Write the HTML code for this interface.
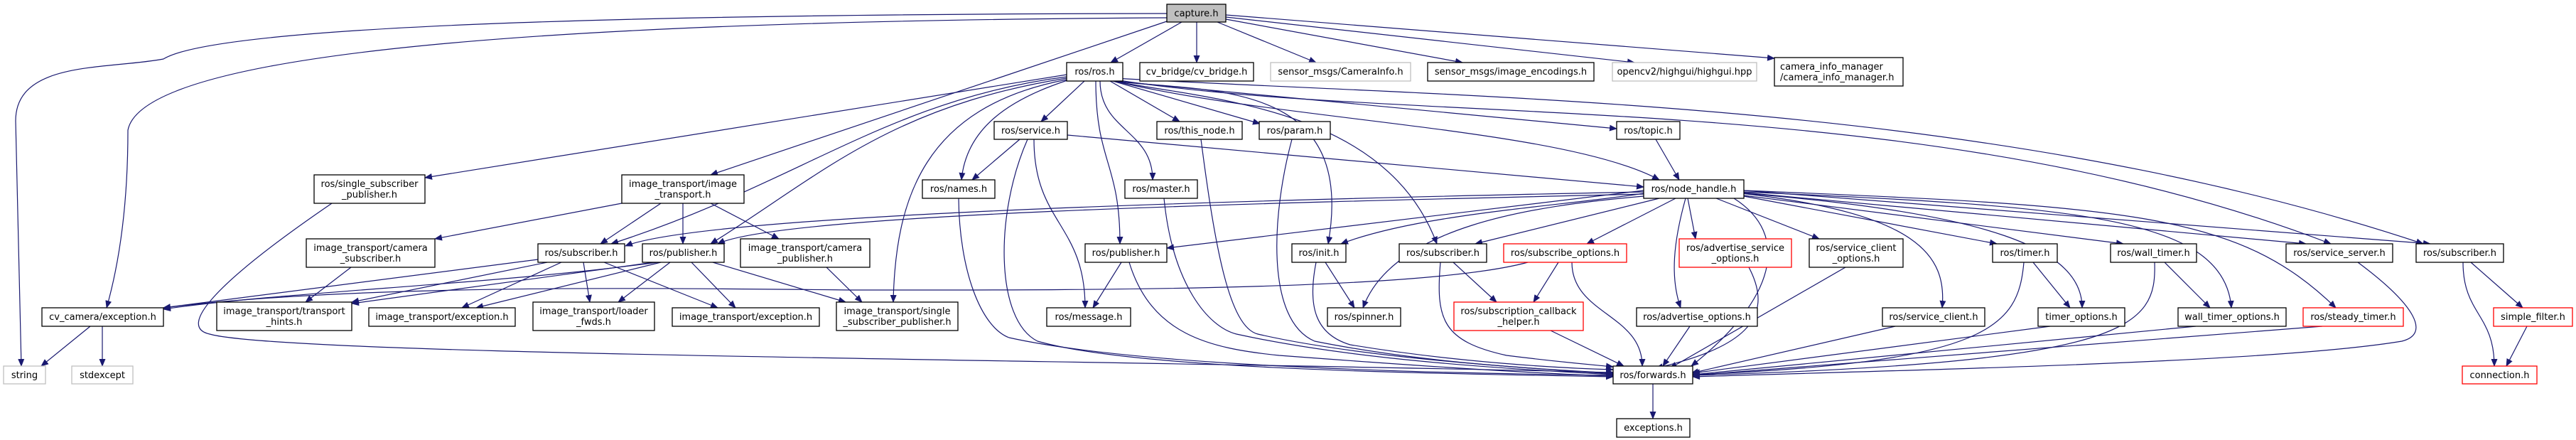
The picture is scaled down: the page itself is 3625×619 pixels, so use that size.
<!DOCTYPE html>
<html><head><meta charset="utf-8"><style>
html,body{margin:0;padding:0;background:#fff;}
svg{display:block;}
text{font-family:"DejaVu Sans","Liberation Sans",sans-serif;font-size:13px;fill:#000;}
</style></head><body>
<svg id="g" width="3625" height="619" viewBox="0 0 3625 619" xmlns="http://www.w3.org/2000/svg">
<defs><marker id="a" markerWidth="11" markerHeight="9" refX="10" refY="4.5" orient="auto" markerUnits="userSpaceOnUse"><path d="M0,0 L11,4.5 L0,9 Z" fill="#191970"/></marker></defs>
<g id="edges" fill="none" stroke="#191970" stroke-width="1.2"></g>
<g id="nodes" stroke-width="1.3">
<rect x="1642" y="6" width="83" height="25" fill="#bfbfbf" stroke="#000"/><text x="1683.5" y="23" text-anchor="middle">capture.h</text>
<rect x="1501" y="88" width="79" height="26" fill="#fff" stroke="#000"/><text x="1540.5" y="105" text-anchor="middle">ros/ros.h</text>
<rect x="1604" y="88" width="160" height="26" fill="#fff" stroke="#000"/><text x="1684" y="105" text-anchor="middle">cv_bridge/cv_bridge.h</text>
<rect x="1788" y="88" width="197" height="26" fill="#fff" stroke="#bfbfbf"/><text x="1886.5" y="105" text-anchor="middle">sensor_msgs/CameraInfo.h</text>
<rect x="2009" y="88" width="234" height="26" fill="#fff" stroke="#000"/><text x="2126" y="105" text-anchor="middle">sensor_msgs/image_encodings.h</text>
<rect x="2269" y="88" width="203" height="26" fill="#fff" stroke="#bfbfbf"/><text x="2370.5" y="105" text-anchor="middle">opencv2/highgui/highgui.hpp</text>
<rect x="2497" y="81" width="181" height="40" fill="#fff" stroke="#000"/><text x="2505" y="98">camera_info_manager</text><text x="2505" y="113">/camera_info_manager.h</text>
<rect x="442" y="246" width="156" height="40" fill="#fff" stroke="#000"/><text x="520" y="263" text-anchor="middle">ros/single_subscriber</text><text x="520" y="278" text-anchor="middle">_publisher.h</text>
<rect x="875" y="246" width="172" height="40" fill="#fff" stroke="#000"/><text x="961" y="263" text-anchor="middle">image_transport/image</text><text x="961" y="278" text-anchor="middle">_transport.h</text>
<rect x="1399" y="171" width="103" height="25" fill="#fff" stroke="#000"/><text x="1450.5" y="188" text-anchor="middle">ros/service.h</text>
<rect x="1628" y="171" width="120" height="25" fill="#fff" stroke="#000"/><text x="1688" y="188" text-anchor="middle">ros/this_node.h</text>
<rect x="1772" y="171" width="100" height="25" fill="#fff" stroke="#000"/><text x="1822" y="188" text-anchor="middle">ros/param.h</text>
<rect x="2275" y="171" width="89" height="25" fill="#fff" stroke="#000"/><text x="2319.5" y="188" text-anchor="middle">ros/topic.h</text>
<rect x="1298" y="253" width="102" height="26" fill="#fff" stroke="#000"/><text x="1349" y="270" text-anchor="middle">ros/names.h</text>
<rect x="1583" y="253" width="102" height="26" fill="#fff" stroke="#000"/><text x="1634" y="270" text-anchor="middle">ros/master.h</text>
<rect x="2313" y="253" width="141" height="26" fill="#fff" stroke="#000"/><text x="2383.5" y="270" text-anchor="middle">ros/node_handle.h</text>
<rect x="431" y="336" width="181" height="40" fill="#fff" stroke="#000"/><text x="521.5" y="353" text-anchor="middle">image_transport/camera</text><text x="521.5" y="368" text-anchor="middle">_subscriber.h</text>
<rect x="757" y="343" width="122" height="26" fill="#fff" stroke="#000"/><text x="818" y="360" text-anchor="middle">ros/subscriber.h</text>
<rect x="904" y="343" width="115" height="26" fill="#fff" stroke="#000"/><text x="961.5" y="360" text-anchor="middle">ros/publisher.h</text>
<rect x="1042" y="336" width="182" height="40" fill="#fff" stroke="#000"/><text x="1133" y="353" text-anchor="middle">image_transport/camera</text><text x="1133" y="368" text-anchor="middle">_publisher.h</text>
<rect x="1527" y="343" width="115" height="26" fill="#fff" stroke="#000"/><text x="1584.5" y="360" text-anchor="middle">ros/publisher.h</text>
<rect x="1818" y="343" width="76" height="26" fill="#fff" stroke="#000"/><text x="1856" y="360" text-anchor="middle">ros/init.h</text>
<rect x="1969" y="343" width="123" height="26" fill="#fff" stroke="#000"/><text x="2030.5" y="360" text-anchor="middle">ros/subscriber.h</text>
<rect x="2116" y="343" width="173" height="26" fill="#fff" stroke="#ff0000"/><text x="2202.5" y="360" text-anchor="middle">ros/subscribe_options.h</text>
<rect x="2363" y="336" width="158" height="40" fill="#fff" stroke="#ff0000"/><text x="2442" y="353" text-anchor="middle">ros/advertise_service</text><text x="2442" y="368" text-anchor="middle">_options.h</text>
<rect x="2546" y="336" width="132" height="40" fill="#fff" stroke="#000"/><text x="2612" y="353" text-anchor="middle">ros/service_client</text><text x="2612" y="368" text-anchor="middle">_options.h</text>
<rect x="2804" y="343" width="91" height="26" fill="#fff" stroke="#000"/><text x="2849.5" y="360" text-anchor="middle">ros/timer.h</text>
<rect x="2970" y="343" width="121" height="26" fill="#fff" stroke="#000"/><text x="3030.5" y="360" text-anchor="middle">ros/wall_timer.h</text>
<rect x="3217" y="343" width="150" height="26" fill="#fff" stroke="#000"/><text x="3292" y="360" text-anchor="middle">ros/service_server.h</text>
<rect x="3400" y="343" width="123" height="26" fill="#fff" stroke="#000"/><text x="3461.5" y="360" text-anchor="middle">ros/subscriber.h</text>
<rect x="59" y="433" width="171" height="26" fill="#fff" stroke="#000"/><text x="144.5" y="450" text-anchor="middle">cv_camera/exception.h</text>
<rect x="305" y="425" width="190" height="40" fill="#fff" stroke="#000"/><text x="400" y="442" text-anchor="middle">image_transport/transport</text><text x="400" y="457" text-anchor="middle">_hints.h</text>
<rect x="519" y="433" width="206" height="26" fill="#fff" stroke="#000"/><text x="622" y="450" text-anchor="middle">image_transport/exception.h</text>
<rect x="750" y="425" width="171" height="40" fill="#fff" stroke="#000"/><text x="835.5" y="442" text-anchor="middle">image_transport/loader</text><text x="835.5" y="457" text-anchor="middle">_fwds.h</text>
<rect x="946" y="433" width="207" height="26" fill="#fff" stroke="#000"/><text x="1049.5" y="450" text-anchor="middle">image_transport/exception.h</text>
<rect x="1177" y="425" width="171" height="40" fill="#fff" stroke="#000"/><text x="1262.5" y="442" text-anchor="middle">image_transport/single</text><text x="1262.5" y="457" text-anchor="middle">_subscriber_publisher.h</text>
<rect x="1473" y="433" width="118" height="26" fill="#fff" stroke="#000"/><text x="1532" y="450" text-anchor="middle">ros/message.h</text>
<rect x="1868" y="433" width="103" height="26" fill="#fff" stroke="#000"/><text x="1919.5" y="450" text-anchor="middle">ros/spinner.h</text>
<rect x="2046" y="425" width="182" height="40" fill="#fff" stroke="#ff0000"/><text x="2137" y="442" text-anchor="middle">ros/subscription_callback</text><text x="2137" y="457" text-anchor="middle">_helper.h</text>
<rect x="2303" y="433" width="170" height="26" fill="#fff" stroke="#000"/><text x="2388" y="450" text-anchor="middle">ros/advertise_options.h</text>
<rect x="2649" y="433" width="144" height="26" fill="#fff" stroke="#000"/><text x="2721" y="450" text-anchor="middle">ros/service_client.h</text>
<rect x="2868" y="433" width="122" height="26" fill="#fff" stroke="#000"/><text x="2929" y="450" text-anchor="middle">timer_options.h</text>
<rect x="3065" y="433" width="152" height="26" fill="#fff" stroke="#000"/><text x="3141" y="450" text-anchor="middle">wall_timer_options.h</text>
<rect x="3241" y="433" width="141" height="26" fill="#fff" stroke="#ff0000"/><text x="3311.5" y="450" text-anchor="middle">ros/steady_timer.h</text>
<rect x="3509" y="433" width="111" height="26" fill="#fff" stroke="#ff0000"/><text x="3564.5" y="450" text-anchor="middle">simple_filter.h</text>
<rect x="5" y="515" width="59" height="25" fill="#fff" stroke="#bfbfbf"/><text x="34.5" y="532" text-anchor="middle">string</text>
<rect x="101" y="515" width="86" height="25" fill="#fff" stroke="#bfbfbf"/><text x="144" y="532" text-anchor="middle">stdexcept</text>
<rect x="2270" y="515" width="112" height="25" fill="#fff" stroke="#000"/><text x="2326" y="532" text-anchor="middle">ros/forwards.h</text>
<rect x="3465" y="515" width="105" height="25" fill="#fff" stroke="#ff0000"/><text x="3517.5" y="532" text-anchor="middle">connection.h</text>
<rect x="2275" y="589" width="103" height="26" fill="#fff" stroke="#000"/><text x="2326.5" y="606" text-anchor="middle">exceptions.h</text>
</g>
</svg>
<script>
var E=[
[1663,31,1563,88],[1684,31,1684,88],[1713,31,1852,88],[1725,27,2058,88],[1725,24,2300,88],[1725,21,2497,82],
[1501,105,598,250],
[0,0,0,0,"M1501,110 C1250,150 1150,250 1000,343"],
[0,0,0,0,"M1501,108 C1250,140 1120,260 860,343"],
[0,0,0,0,"M1501,112 C1300,150 1260,280 1257,425"],
[0,0,0,0,"M1502,113 C1420,140 1360,180 1353,253"],
[1526,114,1465,171],[1542,114,1576,343],[1548,114,1622,253],[1562,114,1660,171],[1566,114,1773,174],
[0,0,0,0,"M1565,114 C1700,130 1910,110 1869,343"],
[0,0,0,0,"M1566,114 C1700,140 1950,150 2022,343"],
[1568,114,2275,181],
[0,0,0,0,"M1568,114 C1800,170 2200,180 2335,253"],
[0,0,0,0,"M1568,112 C2000,180 2700,120 3280,343"],
[0,0,0,0,"M1568,110 C2100,140 2800,140 3410,343"],
[875,286,612,336],[930,286,845,343],[961,286,961,343],[1000,286,1096,336],
[0,0,0,0,"M467,286 C300,400 250,460 295,470 C400,500 1500,505 2270,524"],
[494,376,430,425],[757,365,230,433],[770,369,495,425],[790,369,650,433],[821,369,830,425],[850,369,1010,433],
[0,0,0,0,"M925,369 C700,400 400,410 230,435"],[920,369,495,427],[930,369,670,433],[943,369,870,425],[973,369,1035,433],[1003,369,1190,425],
[1163,376,1213,425],
[0,0,0,0,"M2150,369 C2000,410 1500,408 1200,408 C900,405 500,400 230,433"],
[0,0,0,0,"M2313,270 C1800,280 1000,300 880,346"],
[0,0,0,0,"M2313,273 C1800,285 1100,300 1010,343"],
[1435,196,1368,253],[1455,196,1527,433],
[0,0,0,0,"M1446,196 C1400,300 1400,450 1460,480 C1600,520 2000,525 2270,530"],
[1502,190,2313,263],
[0,0,0,0,"M1349,279 C1350,380 1380,460 1420,475 C1600,515 2000,525 2270,528"],
[0,0,0,0,"M1638,279 C1650,400 1700,460 1740,470 C1900,505 2100,518 2270,527"],
[0,0,0,0,"M1690,196 C1710,350 1730,460 1770,470 C1900,500 2100,515 2270,526"],
[0,0,0,0,"M1818,196 C1790,300 1780,450 1850,480 C2000,510 2150,518 2270,525"],
[1578,369,1538,433],
[0,0,0,0,"M1589,369 C1620,470 1700,490 1800,500 C2000,515 2150,525 2270,529"],
[1865,369,1906,433],
[0,0,0,0,"M1852,369 C1840,430 1850,470 1900,485 C2050,510 2200,518 2270,520"],
[2045,369,2106,425],
[0,0,0,0,"M2027,369 C2020,450 2030,480 2120,500 C2200,510 2240,513 2270,516"],
[2193,369,2158,425],[2212,369,2311,515],[2182,465,2285,515],[2378,459,2340,515],
[2313,268,1642,349],
[0,0,0,0,"M2313,272 C2200,290 2000,300 1887,343"],
[2335,279,2076,343],[2358,279,2233,343],
[0,0,0,0,"M2313,276 C2150,290 1960,320 1918,433"],
[2375,279,2386,336],
[0,0,0,0,"M2372,279 C2355,340 2350,390 2365,433"],
[2415,279,2560,336],
[0,0,0,0,"M2440,279 C2520,330 2500,420 2380,515"],
[0,0,0,0,"M2450,272 C2700,300 2740,360 2733,433"],
[2454,276,2810,343],
[0,0,0,0,"M2454,272 C2800,300 2930,350 2930,433"],
[2454,275,2988,343],
[0,0,0,0,"M2454,270 C2900,290 3130,300 3140,433"],
[2454,271,3245,343],
[0,0,0,0,"M2454,268 C3000,290 3150,300 3287,433"],
[2454,268,3420,343],
[0,0,0,0,"M2461,376 C2500,450 2450,490 2330,518"],
[2597,376,2350,518],[2667,459,2380,525],[2861,369,2913,433],
[0,0,0,0,"M2848,369 C2840,460 2800,510 2382,527"],
[2885,459,2382,525],[3046,369,3110,433],
[0,0,0,0,"M3032,369 C3035,460 3000,510 2382,528"],
[3090,459,2382,527],[3268,459,2382,528],
[0,0,0,0,"M3318,369 C3400,430 3420,470 3380,480 C3200,510 2700,520 2382,530"],
[3477,369,3550,433],[3466,369,3510,515],[3556,459,3527,515],
[2326,540,2326,589],[2330,196,2363,253],[127,459,58,515],[144,459,144,515],
[1642,30,1000,246],
[0,0,0,0,"M1642,19 C800,20 300,40 230,83 C150,98 22,85 22,170 L30,515"],
[0,0,0,0,"M1642,25 C700,30 200,80 180,183 C180,300 165,380 150,433"]
];
var g=document.getElementById('edges'),ns='http://www.w3.org/2000/svg';
E.forEach(function(e){var d=e[4];if(!d){var dx=Math.abs(e[2]-e[0]),dy=Math.abs(e[3]-e[1]);
if(dy<80||dx>1.5*dy)d='M'+e[0]+','+e[1]+' L'+e[2]+','+e[3];
else{var m=(e[1]+e[3])/2;d='M'+e[0]+','+e[1]+' C'+e[0]+','+m+' '+e[2]+','+m+' '+e[2]+','+e[3];}}
var p=document.createElementNS(ns,'path');p.setAttribute('d',d);p.setAttribute('marker-end','url(#a)');g.appendChild(p);});
</script>
</body></html>
